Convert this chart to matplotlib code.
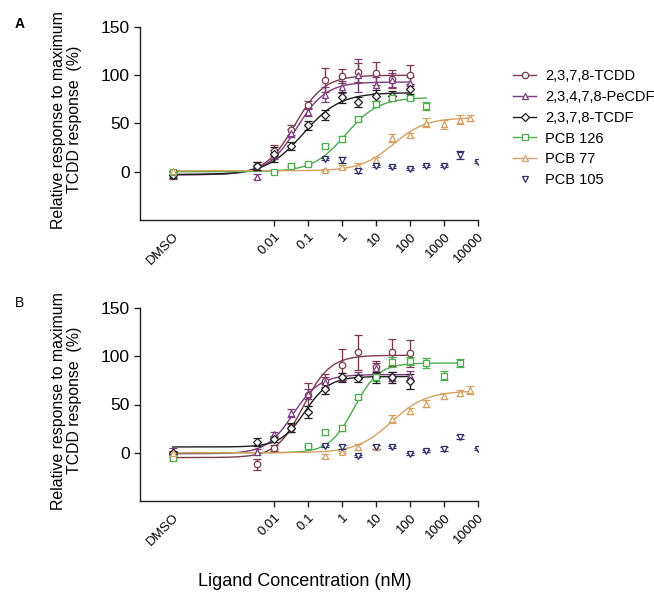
import numpy as np
import matplotlib
matplotlib.use("Agg")
import matplotlib.pyplot as plt

plt.rcParams['font.family'] = ['Liberation Sans', 'DejaVu Sans']

# ---------------- data ----------------
DMSO = 1e-5  # position used for the vehicle control on the log axis

names = ["2,3,7,8-TCDD", "2,3,4,7,8-PeCDF", "2,3,7,8-TCDF", "PCB 126", "PCB 77", "PCB 105"]
colors = ["#7d3c4c", "#7b3b80", "#1e1e1e", "#4cae4c", "#d6a062", "#2e2e68"]
markers = ["o", "^", "D", "s", "^", "v"]

conc_dioxin = [DMSO, 0.003, 0.01, 0.03, 0.1, 0.3, 1, 3, 10, 30, 100]
conc_pcb126_A = [DMSO, 0.01, 0.03, 0.1, 0.3, 1, 3, 10, 30, 100, 300]
conc_pcb126_B = [DMSO, 0.1, 0.3, 1, 3, 10, 30, 100, 300, 1000, 3000]
conc_pcb77 = [DMSO, 0.3, 1, 3, 10, 30, 100, 300, 1000, 3000, 6000]
conc_pcb105 = [0.3, 1, 3, 10, 30, 100, 300, 1000, 3000, 10000]

# Panel A means / SEM
A_tcdd = [-3, 6, 22, 43, 69, 95, 99, 103, 102, 96, 100]
A_tcdd_err = [4, 4, 6, 5, 4, 12, 7, 10, 12, 9, 11]
A_pecdf = [-2, -5, 18, 40, 62, 80, 88, 100, 90, 95, 92]
A_pecdf_err = [3, 3, 5, 4, 4, 8, 6, 17, 8, 7, 6]
A_tcdf = [-3, 6, 18, 27, 48, 59, 77, 72, 79, 79, 86]
A_tcdf_err = [3, 4, 8, 4, 5, 5, 6, 5, 6, 5, 5]
A_pcb126 = [0, -0.5, 6, 8.5, 27, 34, 55, 70, 76, 76, 68]
A_pcb126_err = [2, 1, 1, 1, 2, 3, 2, 3, 3, 2, 4]
A_pcb77 = [1, 2, 5, 6, 12, 35, 38.5, 51, 49, 54, 56]
A_pcb77_err = [1, 1, 2, 3, 3, 4, 2, 5, 5, 5, 3]
A_pcb105 = [13, 12, 1, 6, 5, 3, 5.5, 5.5, 17, 10.5]
A_pcb105_err = [1, 3, 2, 1, 1, 1, 1, 1, 4, 1]

# Panel B means / SEM
B_tcdd = [-2, -12, 5, 26, 60, 74, 91, 104, 89, 104, 103]
B_tcdd_err = [3, 6, 3, 4, 12, 8, 17, 18, 6, 14, 14]
B_pecdf = [2, 1, 19, 41, 61, 73, 79, 80, 88, 79, 80]
B_pecdf_err = [3, 3, 3, 4, 5, 5, 4, 4, 5, 5, 5]
B_tcdf = [0, 11, 14, 26, 42, 66, 78, 77, 78, 78, 74]
B_tcdf_err = [2, 4, 3, 5, 6, 5, 5, 4, 6, 6, 8]
B_pcb126 = [-5, 7, 21, 26, 58, 78, 94, 95, 93, 80, 93]
B_pcb126_err = [2, 1, 3, 3, 2, 4, 5, 4, 5, 5, 4]
B_pcb77 = [0, -3, 1, 6, 6, 35, 43, 51, 59, 62, 65]
B_pcb77_err = [1, 2, 1, 3, 2, 4, 3, 4, 3, 3, 4]
B_pcb105 = [7, 6, -3, 6, 6, -1, 2, 4, 16, 4]
B_pcb105_err = [1, 2, 1, 2, 1, 1, 1, 2, 2, 1]

# Fitted 4-parameter logistic curves: bottom, top, logEC50, hill
A_fit_bottom = [-3, -3, -3, 0, 1]
A_fit_top = [100, 93, 82, 77, 56]
A_fit_logec50 = [-1.4, -1.35, -1.15, 0.1, 1.5]
A_fit_hill = [1.0, 1.0, 0.8, 0.9, 0.9]

B_fit_bottom = [-5, -1, 6, 0, 0]
B_fit_top = [101, 81, 79, 93, 64]
B_fit_logec50 = [-1.15, -1.45, -1.1, 0.35, 1.45]
B_fit_hill = [1.1, 1.1, 1.2, 1.2, 0.85]

x_ticks = [DMSO, 0.01, 0.1, 1, 10, 100, 1000, 10000]
x_ticklabels = ["DMSO", "0.01", "0.1", "1", "10", "100", "1000", "10000"]
y_ticks = [0, 50, 100, 150]

# ---------------- figure ----------------
W, H = 654, 593
fig = plt.figure(figsize=(W / 100, H / 100), dpi=100)


def px_axes(left, top, right, bottom):
    return fig.add_axes([left / W, 1 - bottom / H, (right - left) / W, (bottom - top) / H])


def logistic(x, b, t, l, h):
    return b + (t - b) / (1 + 10 ** ((l - np.log10(x)) * h))


def draw_panel(ax, series, fits):
    bottoms, tops, lecs, hills = fits
    for i, (xc, y, e) in enumerate(series):
        col = colors[i]
        if i < 5:
            xs = np.logspace(np.log10(xc[0]), np.log10(xc[-1]), 400)
            ax.plot(xs, logistic(xs, bottoms[i], tops[i], lecs[i], hills[i]),
                    color=col, lw=1.0, zorder=2)
        ms = 4.6 if markers[i] != "D" else 4.0
        ax.errorbar(xc, y, yerr=e, fmt=markers[i], color=col, mfc="white",
                    mec=col, ms=ms, mew=0.9, ecolor=col, elinewidth=1.0,
                    capsize=3, capthick=1.0, zorder=3)
    ax.set_xscale("log")
    ax.set_xlim(10 ** -5.96, 1e4)
    ax.set_ylim(-50, 150)
    ax.set_yticks(y_ticks)
    ax.set_yticklabels([str(v) for v in y_ticks], fontsize=12.5)
    ax.set_xticks(x_ticks)
    ax.set_xticklabels(x_ticklabels, rotation=45, ha="right",
                       rotation_mode="anchor", fontsize=9.5)
    ax.xaxis.set_minor_locator(matplotlib.ticker.NullLocator())
    ax.tick_params(axis="both", direction="out", length=4, width=1, color="#222222")
    ax.xaxis.get_major_ticks()[0].tick1line.set_visible(False)
    for s in ("top", "right"):
        ax.spines[s].set_visible(False)
    for s in ("left", "bottom"):
        ax.spines[s].set_linewidth(1.0)
        ax.spines[s].set_color("#222222")
    ax.set_ylabel("Relative response to maximum\nTCDD response  (%)", fontsize=11.4,
                  linespacing=1.1)
    ax.yaxis.set_label_coords(-0.172, 0.52)


axA = px_axes(140, 27, 478, 220)
seriesA = [(conc_dioxin, A_tcdd, A_tcdd_err), (conc_dioxin, A_pecdf, A_pecdf_err),
           (conc_dioxin, A_tcdf, A_tcdf_err), (conc_pcb126_A, A_pcb126, A_pcb126_err),
           (conc_pcb77, A_pcb77, A_pcb77_err), (conc_pcb105, A_pcb105, A_pcb105_err)]
draw_panel(axA, seriesA, (A_fit_bottom, A_fit_top, A_fit_logec50, A_fit_hill))

axB = px_axes(140, 308, 478, 501)
seriesB = [(conc_dioxin, B_tcdd, B_tcdd_err), (conc_dioxin, B_pecdf, B_pecdf_err),
           (conc_dioxin, B_tcdf, B_tcdf_err), (conc_pcb126_B, B_pcb126, B_pcb126_err),
           (conc_pcb77, B_pcb77, B_pcb77_err), (conc_pcb105, B_pcb105, B_pcb105_err)]
draw_panel(axB, seriesB, (B_fit_bottom, B_fit_top, B_fit_logec50, B_fit_hill))

# legend
handles = []
for i in range(6):
    ls = "-" if i < 5 else "none"
    ms = 4.6 if markers[i] != "D" else 4.0
    h, = axA.plot([], [], ls=ls, marker=markers[i], color=colors[i], mfc="white",
                  mec=colors[i], ms=ms, mew=0.9, lw=1.0)
    handles.append(h)
fig.legend(handles, names, loc="upper left", bbox_to_anchor=(513 / W, 1 - 69 / H),
           frameon=False, fontsize=10.5, handlelength=1.6, handletextpad=0.6,
           labelspacing=0.47, borderpad=0, borderaxespad=0)

fig.text(15 / W, 1 - 24 / H, "A", fontsize=10, fontweight="bold", va="center", ha="left")
fig.text(15 / W, 1 - 303 / H, "B", fontsize=10, va="center", ha="left")
fig.text(305 / W, 1 - 581 / H, "Ligand Concentration (nM)", fontsize=13,
         ha="center", va="center")

fig.savefig("out.png", dpi=100)
